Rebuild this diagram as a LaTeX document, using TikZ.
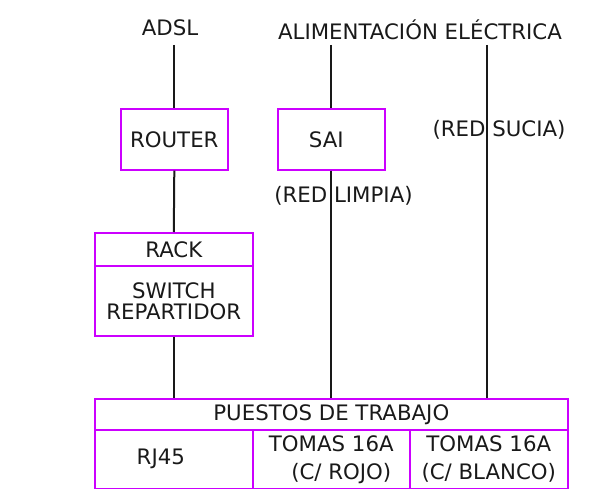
\documentclass[tikz,border=0pt]{standalone}
\usepackage{fontspec}
\setmainfont{DejaVu Sans}
\definecolor{boxc}{RGB}{204,0,255}
\begin{document}
\begin{tikzpicture}[x=1pt,y=-1pt,
  every node/.style={font=\fontsize{21.3}{22}\selectfont, text=black!90, inner sep=0pt},
  box/.style={draw=boxc, line width=1.6pt, rectangle, anchor=north west},
  wire/.style={draw=black!90, line width=2pt}]
\useasboundingbox (0,0) rectangle (599,489);
% top labels
\node (adsl) at (170,28) {ADSL};
\node (alim) at (420,30) {ALIMENTACIÓN ELÉCTRICA};
% boxes
\node[box, minimum width=107pt, minimum height=61pt] (router) at (120,108) {ROUTER};
\node[box, minimum width=107pt, minimum height=61pt] (sai) at (277,108) {\hspace*{-10pt}SAI};
\node[box, minimum width=158pt, minimum height=33pt] (rack) at (94,232) {RACK};
\node[box, minimum width=158pt, minimum height=70pt, align=center, font=\fontsize{21.3}{21}\selectfont] (switch) at (94,265) {SWITCH\\REPARTIDOR};
\node[box, minimum width=473pt, minimum height=31pt] (puestos) at (94,398) {PUESTOS DE TRABAJO};
\node[box, minimum width=158pt, minimum height=59pt] (rj) at (94,429) {\hspace*{-26pt}RJ45};
\node[box, minimum width=157pt, minimum height=59pt, align=center, font=\fontsize{21.3}{28}\selectfont] (rojo) at (252,429) {TOMAS 16A\\\hspace*{20pt}(C/ ROJO)};
\node[box, minimum width=158pt, minimum height=59pt, align=center, font=\fontsize{21.3}{28}\selectfont] (blanco) at (409,429) {TOMAS 16A\\(C/ BLANCO)};
% labels on lines
\node (limpia) at (343.5,196) {(RED LIMPIA)};
\node (sucia) at (499,130) {(RED SUCIA)};
% wire ends
\coordinate (a0) at (router.north |- 0,45);
\coordinate (s0) at (sai.north |- 0,45);
\coordinate (r0) at (487,45);
% wires
\draw[wire] (a0) -- (router.north);
\draw[wire] (router.south) -- (rack.north);
\draw[wire] (switch.south) -- (switch.south |- puestos.north);
\draw[wire] (s0) -- (sai.north);
\draw[wire] (sai.south) -- (sai.south |- puestos.north);
\draw[wire] (r0) -- (r0 |- puestos.north);
\end{tikzpicture}
\end{document}
